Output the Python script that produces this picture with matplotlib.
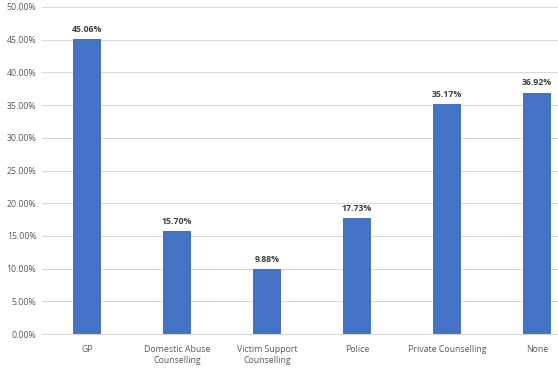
import matplotlib
matplotlib.use("Agg")
import matplotlib.pyplot as plt
from matplotlib.ticker import FuncFormatter, MultipleLocator

categories = ["GP", "Domestic Abuse\nCounselling", "Victim Support\nCounselling",
              "Police", "Private Counselling", "None"]
values = [45.06, 15.70, 9.88, 17.73, 35.17, 36.92]

plt.rcParams['font.family'] = ['Open Sans', 'DejaVu Sans']

fig = plt.figure(figsize=(5.58, 3.68), dpi=100)
ax = fig.add_axes([42/558, 34/368, 540/558, 327/368])

x = list(range(len(categories)))
ax.bar(x, values, width=0.31, color="#4472C4", zorder=3)
for xi, v in zip(x, values):
    ax.text(xi, v + 0.8, f"{v:.2f}%", ha="center", va="bottom",
            fontsize=6.3, fontweight="bold", color="#404040")

ax.set_xlim(-0.5, 5.5)
ax.set_ylim(0, 50)
ax.yaxis.set_major_locator(MultipleLocator(5))
ax.yaxis.set_major_formatter(FuncFormatter(lambda v, p: f"{v:.2f}%"))
ax.set_xticks(x)
ax.set_xticklabels(categories, fontsize=6.3, color="#595959", linespacing=1.3)
ax.tick_params(axis="y", labelsize=6.3, labelcolor="#595959", length=0, pad=4)
ax.tick_params(axis="x", length=0, pad=8)
ax.grid(axis="y", color="#D9D9D9", linewidth=0.8, zorder=0)
for s in ["top", "right", "left"]:
    ax.spines[s].set_visible(False)
ax.spines["bottom"].set_color("#D9D9D9")
ax.spines["bottom"].set_linewidth(0.8)

fig.savefig("out.png", dpi=100)
